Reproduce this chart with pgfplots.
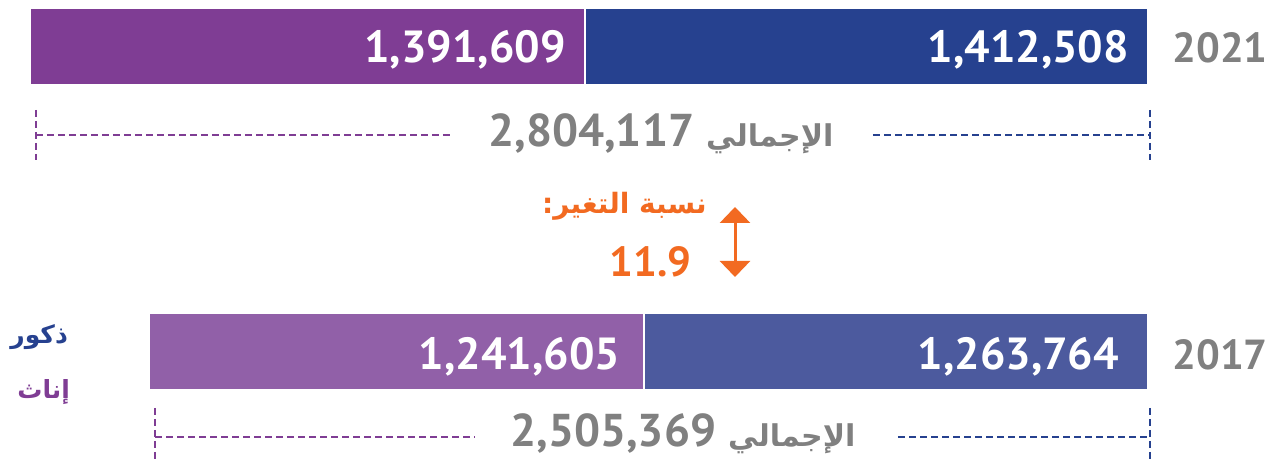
\documentclass[border=0pt]{standalone}
\usepackage{pgfplots}
\pgfplotsset{compat=1.18}
\usepackage{fontspec}
\setmainfont{PT Sans}
\newfontfamily\arabicfont[Script=Arabic]{DejaVu Sans}
\TeXXeTstate=1
\usetikzlibrary{arrows.meta}
\definecolor{maleA}{HTML}{26418F}
\definecolor{femaleA}{HTML}{7F3D94}
\definecolor{maleB}{HTML}{4C5A9E}
\definecolor{femaleB}{HTML}{9160A8}
\definecolor{txtgray}{HTML}{808080}
\definecolor{orng}{HTML}{F26A21}
\newcommand{\pxy}[2]{({#1*0.5pt},{(459-#2)*0.5pt})}
\begin{document}
\begin{tikzpicture}
\useasboundingbox (0,0) rectangle (637pt,229.5pt);
\pgfplotsset{base/.style={
  at={(0,0)}, anchor=south west, scale only axis,
  width=637pt, height=229.5pt,
  x dir=reverse, xmin=-316028, xmax=2879368, ymin=0, ymax=459,
  hide axis, clip=false}}
% 2021
\begin{axis}[base, xbar stacked, bar width=38.5pt]
  \addplot[fill=maleA, draw=white, line width=1pt] coordinates {(1412508,412.5)};
  \addplot[fill=femaleA, draw=white, line width=1pt] coordinates {(1391609,412.5)};
\end{axis}
% 2017
\begin{axis}[base, xbar stacked, bar width=38.5pt]
  \addplot[fill=maleB, draw=white, line width=1pt] coordinates {(1263764,107.5)};
  \addplot[fill=femaleB, draw=white, line width=1pt] coordinates {(1241605,107.5)};
\end{axis}
% labels and brackets
\begin{axis}[base]
  \tikzset{vl/.style={anchor=base east, text=white, font=\bfseries\fontsize{22.5pt}{28pt}\selectfont}}
  \node[vl, xshift=-6pt] at (axis cs:0,396) {1,412,508};
  \node[vl, xshift=-6pt] at (axis cs:1412508,396) {1,391,609};
  \node[vl, xshift=-11pt] at (axis cs:0,89) {1,263,764};
  \node[vl, xshift=-8.5pt] at (axis cs:1263764,89) {1,241,605};
  \tikzset{dl/.style={line width=0.8pt, dash pattern=on 3.5pt off 2pt}}
  \draw[dl, femaleA] ([xshift=3pt]axis cs:2804117,324) -- (axis cs:1745679,324);
  \draw[dl, femaleA] ([xshift=3pt]axis cs:2804117,349) -- ([xshift=3pt]axis cs:2804117,299);
  \draw[dl, maleA] (axis cs:689744,324) -- ([xshift=1pt]axis cs:0,324);
  \draw[dl, maleA] ([xshift=1pt]axis cs:0,349) -- ([xshift=1pt]axis cs:0,299);
  \draw[dl, femaleA] ([xshift=3pt]axis cs:2505369,22) -- (axis cs:1687992,22);
  \draw[dl, femaleA] ([xshift=3pt]axis cs:2505369,51) -- ([xshift=3pt]axis cs:2505369,0);
  \draw[dl, maleA] (axis cs:627040,22) -- ([xshift=1pt]axis cs:0,22);
  \draw[dl, maleA] ([xshift=1pt]axis cs:0,51) -- ([xshift=1pt]axis cs:0,0);
\end{axis}
% years
\node[anchor=base west, inner sep=0pt, text=txtgray, font=\bfseries\fontsize{21pt}{26pt}\selectfont] at \pxy{1172}{63} {2021};
\node[anchor=base west, inner sep=0pt, text=txtgray, font=\bfseries\fontsize{21pt}{26pt}\selectfont] at \pxy{1172}{370} {2017};
% totals
\node[anchor=base west, inner sep=0pt, text=txtgray] at \pxy{488}{147} {\fontsize{23pt}{28pt}\selectfont\bfseries 2,804,117\hspace{6pt}{\arabicfont\bfseries\fontsize{15pt}{18pt}\selectfont\beginR الإجمالي\endR}};
\node[anchor=base west, inner sep=0pt, text=txtgray] at \pxy{510}{447} {\fontsize{23pt}{28pt}\selectfont\bfseries 2,505,369\hspace{6pt}{\arabicfont\bfseries\fontsize{15pt}{18pt}\selectfont\beginR الإجمالي\endR}};
% legend
\node[anchor=base west, inner sep=0pt, text=maleA, font=\arabicfont\bfseries\fontsize{12.5pt}{14pt}\selectfont] at \pxy{10}{344} {\beginR ذكور\endR};
\node[anchor=base west, inner sep=0pt, text=femaleA, font=\arabicfont\bfseries\fontsize{12.5pt}{14pt}\selectfont] at \pxy{17}{399} {\beginR إناث\endR};
% change
\node[anchor=base east, inner sep=0pt, text=orng, font=\arabicfont\bfseries\fontsize{14pt}{16pt}\selectfont] at \pxy{707}{214} {\beginR نسبة التغير:\endR};
\node[anchor=base east, inner sep=0pt, text=orng, font=\bfseries\fontsize{21pt}{26pt}\selectfont] at \pxy{692}{277} {11.9};
\draw[orng, line width=1.5pt, {Triangle[width=15pt,length=8pt]}-{Triangle[width=15pt,length=8pt]}] \pxy{735}{207} -- \pxy{735}{277};
\end{tikzpicture}
\end{document}
